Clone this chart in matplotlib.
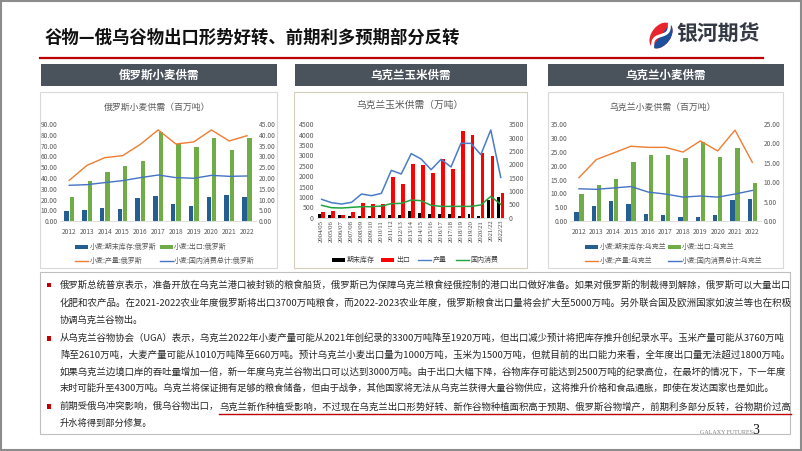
import matplotlib
matplotlib.use('Agg')
import matplotlib.pyplot as plt
import numpy as np
from matplotlib.patches import Rectangle, Ellipse, Polygon
from matplotlib.lines import Line2D

plt.rcParams['font.family'] = ['Noto Sans CJK SC', 'DejaVu Sans']

# ---- data ----
years = ['2012', '2013', '2014', '2015', '2016', '2017', '2018', '2019', '2020', '2021', '2022']

ru_stock = [4.9, 5.1, 6.3, 5.5, 10.6, 11.9, 7.9, 7.2, 11.4, 12.2, 11.3]
ru_export = [11.3, 18.6, 22.7, 25.4, 27.7, 41.5, 35.8, 34.4, 38.7, 32.8, 38.7]
ru_prod = [37.9, 51.8, 58.9, 60.7, 71.2, 84.5, 71.5, 73.4, 84.5, 74.3, 79.2]
ru_cons = [33.3, 33.9, 35.8, 37.6, 40.4, 42.8, 40.4, 39.8, 42.5, 41.6, 41.9]

ua_stock = [2.3, 3.9, 5.3, 4.5, 2.0, 1.6, 1.1, 1.1, 1.5, 5.6, 5.8]
ua_export = [6.9, 9.3, 10.9, 15.3, 17.0, 17.0, 16.3, 20.4, 16.6, 18.8, 9.9]
ua_prod = [15.7, 22.2, 24.6, 27.0, 26.6, 26.6, 24.9, 28.9, 25.3, 32.8, 21.2]
ua_cons = [11.7, 11.5, 12.0, 12.5, 10.5, 9.8, 8.7, 9.1, 8.7, 9.8, 11.1]

corn_years = ['2004/05', '2005/06', '2006/07', '2007/08', '2008/09', '2009/10', '2010/11',
              '2011/12', '2012/13', '2013/14', '2014/15', '2015/16', '2016/17', '2017/18',
              '2018/19', '2019/20', '2020/21', '2021/22', '2022/23']
corn_stock = [125, 87, 100, 75, 75, 62, 100, 87, 100, 237, 175, 137, 150, 150, 75, 137, 75, 662, 787]
corn_export = [212, 237, 112, 212, 562, 525, 525, 1537, 1275, 2025, 1975, 1675, 2200, 1825,
               3250, 3112, 2412, 2312, 925]
corn_prod = [884, 723, 659, 739, 1141, 1061, 1173, 2282, 2105, 3086, 2829, 2314, 2813, 2443,
             3584, 3584, 3038, 4227, 1945]
corn_cons = [595, 482, 466, 498, 530, 530, 562, 675, 691, 852, 820, 595, 546, 546, 546, 546,
             611, 1029, 643]

para1 = ["俄罗斯总统普京表示，准备开放在乌克兰港口被封锁的粮食船货，俄罗斯已为保障乌克兰粮食经俄控制的港口出口做好准备。如果对俄罗斯的制裁得到解除，俄罗斯可以大量出口",
         "化肥和农产品。在2021-2022农业年度俄罗斯将出口3700万吨粮食，而2022-2023农业年度，俄罗斯粮食出口量将会扩大至5000万吨。另外联合国及欧洲国家如波兰等也在积极",
         "协调乌克兰谷物出。"]
para2 = ["从乌克兰谷物协会（UGA）表示，乌克兰2022年小麦产量可能从2021年创纪录的3300万吨降至1920万吨，但出口减少预计将把库存推升创纪录水平。玉米产量可能从3760万吨",
         "降至2610万吨，大麦产量可能从1010万吨降至660万吨。预计乌克兰小麦出口量为1000万吨，玉米为1500万吨，但就目前的出口能力来看，全年度出口量无法超过1800万吨。",
         "如果乌克兰边境口岸的吞吐量增加一倍，新一年度乌克兰谷物出口可以达到3000万吨。由于出口大幅下降，谷物库存可能达到2500万吨的纪录高位，在最坏的情况下，下一年度",
         "末时可能升至4300万吨。乌克兰将保证拥有足够的粮食储备，但由于战争，其他国家将无法从乌克兰获得大量谷物供应，这将推升价格和食品通胀，即使在发达国家也是如此。"]
para3_a = "前期受俄乌冲突影响，俄乌谷物出口，"
para3_b = "乌克兰新作种植受影响，不过现在乌克兰出口形势好转、新作谷物种植面积高于预期、俄罗斯谷物增产，前期利多部分反转，谷物期价过高"
para3_c = "升水将得到部分修复。"

# ---- layout helpers (pixel coords, y from top) ----
W, H = 802, 451
fig = plt.figure(figsize=(W / 100, H / 100), dpi=100)


def box(x0, y0, x1, y1):
    return [x0 / W, 1 - y1 / H, (x1 - x0) / W, (y1 - y0) / H]


def rect(x0, y0, x1, y1, **kw):
    r = Rectangle((x0 / W, 1 - y1 / H), (x1 - x0) / W, (y1 - y0) / H,
                  transform=fig.transFigure, **kw)
    fig.add_artist(r)
    return r


def text(x, y, s, **kw):
    return fig.text(x / W, 1 - y / H, s, **kw)


def hline(x0, x1, y, **kw):
    fig.add_artist(Line2D([x0 / W, x1 / W], [1 - y / H, 1 - y / H], transform=fig.transFigure, **kw))


GREY = '#595959'

# slide frame
rect(0.8, 0.8, 801.2, 450.2, facecolor='white', edgecolor='#8c8c8c', lw=1.5, zorder=-5)

# title
text(45, 38, '谷物—俄乌谷物出口形势好转、前期利多预期部分反转', fontsize=12.5, fontweight='bold',
     color='#111111', va='center')
hline(40, 763, 58.5, color='#c00000', lw=1.6)

# logo
axlogo = fig.add_axes(box(644, 18, 678, 54))
axlogo.set_xlim(644, 678)
axlogo.set_ylim(54, 18)
axlogo.axis('off')
c = np.array([661.0, 35.5])
d = np.array([0.6, -0.8])
n = np.array([0.8, 0.6])
ell = Ellipse(c, 29, 19, angle=-53, facecolor='#e8242c', edgecolor='none')
axlogo.add_patch(ell)
half = Polygon([c + d * 20, c + d * 20 + n * 20, c - d * 20 + n * 20, c - d * 20],
               facecolor='#1c4f9c', edgecolor='none')
axlogo.add_patch(half)
half.set_clip_path(ell)
t = np.linspace(-15, 15, 40)
pts = c + np.outer(t, d) + np.outer(3.2 * np.sin(np.pi * t / 14), n)
axlogo.plot(pts[:, 0], pts[:, 1], color='white', lw=2.2, solid_capstyle='round')
text(676, 34, '银河期货', fontsize=15, fontweight='bold', color='#333a44', va='center')

# header boxes and panels
headers = [(41, 277, '俄罗斯小麦供需'), (295, 527, '乌克兰玉米供需'), (548, 784, '乌克兰小麦供需')]
for x0, x1, s in headers:
    rect(x0, 64, x1, 86, facecolor='#4a525c', edgecolor='none', zorder=-1)
    text((x0 + x1) / 2, 75, s, fontsize=8.3, fontweight='bold', color='white', ha='center', va='center')
rect(40, 92, 277, 268, facecolor='white', edgecolor='#d9d9d9', lw=0.8, zorder=-1)
rect(294, 92, 527, 268, facecolor='white', edgecolor='#d6ccba', lw=0.8, zorder=-1)
rect(548, 92, 783, 268, facecolor='white', edgecolor='#d9d9d9', lw=0.8, zorder=-1)

C_STOCK, C_EXP, C_PROD, C_CONS = '#255e91', '#70ad47', '#ed7d31', '#4472c4'


def wheat_chart(x0, x1, stock, export, prod, cons, lmax, lstep, rmax, rstep):
    axb = fig.add_axes(box(x0, 124, x1, 221.3))
    axl = axb.twinx()
    x = np.arange(len(years))
    axb.bar(x - 0.15, stock, 0.25, color=C_STOCK)
    axb.bar(x + 0.15, export, 0.25, color=C_EXP)
    axl.plot(x, prod, color=C_PROD, lw=1.0)
    axl.plot(x, cons, color=C_CONS, lw=1.0)
    axb.set_ylim(0, rmax)
    axl.set_ylim(0, lmax)
    axb.set_xlim(-0.5, len(years) - 0.5)
    axb.set_xticks(x)
    axb.set_xticklabels(years)
    axb.set_yticks(np.arange(0, rmax + 0.01, rstep))
    axb.set_yticklabels([f'{v:.2f}' for v in np.arange(0, rmax + 0.01, rstep)])
    axl.set_yticks(np.arange(0, lmax + 0.01, lstep))
    axl.set_yticklabels([f'{v:.2f}' for v in np.arange(0, lmax + 0.01, lstep)])
    axb.yaxis.tick_right()
    axl.yaxis.tick_left()
    for a in (axb, axl):
        a.set_facecolor('none')
        for sp in a.spines.values():
            sp.set_visible(False)
        a.tick_params(length=0, labelsize=4.8, labelcolor=GREY, pad=2)
    axb.tick_params(axis='x', pad=4.5)
    axb.spines['bottom'].set_visible(True)
    axb.spines['bottom'].set_color('#d9d9d9')
    axb.spines['bottom'].set_linewidth(0.6)


def legend_item(kind, color, hx, y, label, tx, fs=5, tc=GREY):
    if kind == 'bar':
        rect(hx, y - 2, hx + 13, y + 2, facecolor=color, edgecolor='none')
    else:
        hline(hx, hx + 13, y, color=color, lw=1.0)
    text(tx, y, label, fontsize=fs, color=tc, va='center')


# chart 1: Russia wheat
wheat_chart(60.4, 255.9, ru_stock, ru_export, ru_prod, ru_cons, 90, 10, 45, 5)
text(157, 107, '俄罗斯小麦供需（百万吨）', fontsize=6.4, color=GREY, ha='center', va='center')
legend_item('bar', C_STOCK, 75, 246.7, '小麦:期末库存:俄罗斯', 90)
legend_item('bar', C_EXP, 160, 246.7, '小麦:出口:俄罗斯', 173.5)
legend_item('line', C_PROD, 75, 261, '小麦:产量:俄罗斯', 90)
legend_item('line', C_CONS, 160, 261, '小麦:国内消费总计:俄罗斯', 173.5)

# chart 3: Ukraine wheat
wheat_chart(570.3, 761, ua_stock, ua_export, ua_prod, ua_cons, 35, 5, 25, 5)
text(663, 107, '乌克兰小麦供需（百万吨）', fontsize=6.4, color=GREY, ha='center', va='center')
legend_item('bar', C_STOCK, 585, 246.7, '小麦:期末库存:乌克兰', 599.5)
legend_item('bar', C_EXP, 668, 246.7, '小麦:出口:乌克兰', 682)
legend_item('line', C_PROD, 585, 261, '小麦:产量:乌克兰', 599.5)
legend_item('line', C_CONS, 668, 261, '小麦:国内消费总计:乌克兰', 682)

# chart 2: Ukraine corn
axb = fig.add_axes(box(316.7, 124.3, 505.7, 217.7))
axl = axb.twinx()
xc = np.arange(len(corn_years))
axb.bar(xc - 0.19, corn_stock, 0.3, color='black')
axb.bar(xc + 0.17, corn_export, 0.38, color='#ff0000')
axl.plot(xc, corn_prod, color='#4a7cc9', lw=1.1)
axl.plot(xc, corn_cons, color='#1fa33f', lw=1.1)
axb.set_ylim(0, 3500)
axl.set_ylim(0, 4500)
axb.set_xlim(-0.5, len(corn_years) - 0.5)
axb.set_xticks(xc)
axb.set_xticklabels(corn_years, rotation=90, family=['Liberation Serif', 'DejaVu Serif'])
axb.set_yticks(np.arange(0, 3501, 500))
axl.set_yticks(np.arange(0, 4501, 500))
axb.yaxis.tick_right()
axl.yaxis.tick_left()
for a in (axb, axl):
    a.set_facecolor('none')
    for sp in a.spines.values():
        sp.set_visible(False)
    a.tick_params(length=0, labelsize=5, labelcolor=GREY, pad=2)
axb.tick_params(axis='x', labelsize=4.8, pad=1.5, labelcolor='#404040')
axb.spines['bottom'].set_visible(True)
axb.spines['bottom'].set_color('#d9d9d9')
axb.spines['bottom'].set_linewidth(0.6)
text(410, 105, '乌克兰玉米供需（万吨）', fontsize=7, color=GREY, ha='center', va='center')
legend_item('bar', 'black', 332, 260, '期末库存', 347, fs=5, tc='#404040')
legend_item('bar', '#ff0000', 381, 260, '出口', 396, fs=5, tc='#404040')
legend_item('line', '#4a7cc9', 418, 260, '产量', 433, fs=5, tc='#404040')
legend_item('line', '#1fa33f', 456, 260, '国内消费', 470, fs=5, tc='#404040')

# text box
rect(39.5, 272, 790, 434, facecolor='white', edgecolor='#bfbfbf', lw=0.8, zorder=-1)
FS = 6.7
TC = '#262626'
X0, X1 = 60, 784
renderer = fig.canvas.get_renderer()


def body_line(y, s, full):
    tt = text(X0, y, s, fontsize=FS, color=TC, va='center')
    if full:
        w = tt.get_window_extent(renderer).width
        tt.set_fontsize(FS * (X1 - X0) / w)
    return tt


for yb in (285, 338.5, 406.5):
    rect(46.5, yb - 2.2, 50.9, yb + 2.2, facecolor='#c00000', edgecolor='none')
for i, s in enumerate(para1):
    body_line(285 + i * 17.5, s, i < len(para1) - 1)
for i, s in enumerate(para2):
    body_line(338.5 + i * 16.5, s, i < len(para2) - 1)

ta = text(X0, 406.5, para3_a, fontsize=FS, color=TC, va='center')
tb = text(X0, 406.5, para3_b, fontsize=FS, color=TC, va='center')
wa = ta.get_window_extent(renderer).width
wb = tb.get_window_extent(renderer).width
k = (X1 - X0) / (wa + wb)
ta.set_fontsize(FS * k)
tb.set_fontsize(FS * k)
xa1 = ta.get_window_extent(renderer).x1
tb.set_x(xa1 / W)
bbb = tb.get_window_extent(renderer)
hline(bbb.x0, bbb.x1, 413.8, color='#c00000', lw=1.0)
body_line(423, para3_c, False)

text(726, 432, 'GALAXY FUTURES', fontsize=4.3, color='#7f7f7f', ha='center', va='center',
     family=['Liberation Serif', 'DejaVu Serif'])
text(756, 430, '3', fontsize=10, color='#111111', ha='center', va='center',
     family=['Liberation Serif', 'DejaVu Serif'])

fig.savefig('out.png', dpi=100)
